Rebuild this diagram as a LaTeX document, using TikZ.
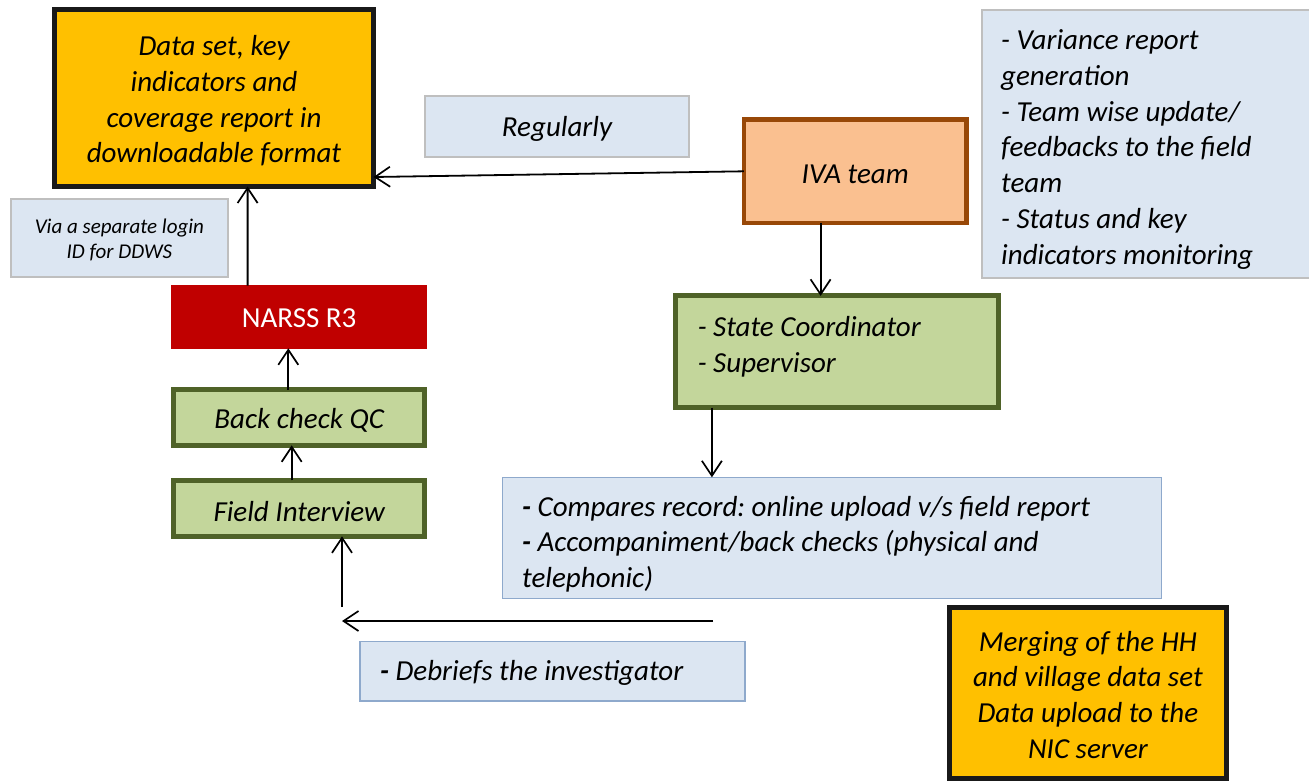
\documentclass[tikz,border=0pt]{standalone}
\usepackage{fontspec}
\setmainfont{Carlito}
\usetikzlibrary{arrows.meta,calc}

\definecolor{gold}{HTML}{FFC000}
\definecolor{paleblue}{HTML}{DCE6F2}
\definecolor{greyline}{HTML}{BFBFBF}
\definecolor{blueline}{HTML}{8EA9CC}
\definecolor{peach}{HTML}{FAC090}
\definecolor{rust}{HTML}{984807}
\definecolor{leaf}{HTML}{C3D69B}
\definecolor{olive}{HTML}{4F6228}
\definecolor{crimson}{HTML}{C00000}

\tikzset{
  box/.style={draw, rectangle, inner sep=0pt, outer sep=0pt},
  goldbox/.style={box, fill=gold, draw=black!90, line width=5pt},
  notebox/.style={box, fill=paleblue, draw=greyline, line width=2pt},
  infobox/.style={box, fill=paleblue, draw=blueline, line width=1.5pt},
  teambox/.style={box, fill=peach, draw=rust, line width=4.5pt},
  stepbox/.style={box, fill=leaf, draw=olive, line width=4.5pt},
  caption/.style={inner sep=0pt, align=center,
    font=\fontsize{29}{35.7}\selectfont\itshape},
  listtext/.style={caption, anchor=west, align=left},
  arr/.style={-{Straight Barb[length=15pt,width=20pt,line width=1.7pt]}, line width=1.8pt}
}

\begin{document}
\frenchspacing
\begin{tikzpicture}[x=1pt,y=-1pt]
\useasboundingbox (0,0) rectangle (1309,780);

% boxes
\node[goldbox, minimum width=319, minimum height=177] (data) at (214,98) {};
\node[notebox, minimum width=264, minimum height=61] (reg) at (557,126.5) {};
\node[teambox, minimum width=222.5, minimum height=103.5] (iva) at (855.2,171.3) {};
\node[notebox, minimum width=333.3, minimum height=267.5] (tasks) at (1148.4,143.8) {};
\node[notebox, minimum width=216.7, minimum height=77.4] (login) at (119.4,238) {};
\node[box, fill=crimson, draw=crimson, line width=0.5pt,
  minimum width=255, minimum height=62.6] (narss) at (299.2,317) {};
\node[stepbox, minimum width=251, minimum height=55.6] (qc) at (299.2,417.5) {};
\node[stepbox, minimum width=251, minimum height=56] (field) at (299.2,508.3) {};
\node[stepbox, line width=5pt, minimum width=322.7, minimum height=111.7] (sc) at (836.9,351.7) {};
\node[infobox, minimum width=659, minimum height=121] (cmp) at (832,537.8) {};
\node[infobox, minimum width=385, minimum height=59.5] (debrief) at (552.7,671.2) {};
\node[goldbox, minimum width=277.3, minimum height=170.8] (merge) at (1087.9,692.6) {};

% texts
\node[caption] (datatext) at ($(data.center)+(0,3)$)
  {Data set, key\\indicators and\\coverage report in\\downloadable format};
\node[caption] (regtext) at ($(reg.center)+(0,2.5)$) {Regularly};
\node[caption] (ivatext) at ($(iva.center)+(0,2.5)$) {IVA team};
\node[listtext] (taskstext) at (1001,149.5)
  {- Variance report\\generation\\- Team wise update/\\feedbacks to the field\\team\\- Status and key\\indicators monitoring};
\node[caption, font=\fontsize{21}{25}\selectfont\itshape] (logintext)
  at ($(login.center)+(0,2)$) {Via a separate login\\ID for DDWS};
\node[caption, text=white, font=\fontsize{29}{35.7}\selectfont] (narsstext)
  at ($(narss.center)+(0,1)$) {NARSS R3};
\node[caption] (qctext) at ($(qc.center)+(0,3)$) {Back check QC};
\node[caption] (fieldtext) at ($(field.center)+(0,3)$) {Field Interview};
\node[listtext] (sctext) at (697.6,346.5) {- State Coordinator\\- Supervisor};
\node[listtext] (cmptext) at (522,544)
  {\textbf{-} Compares record: online upload v/s field report\\\textbf{-} Accompaniment/back checks (physical and\\telephonic)};
\node[listtext] (debrieftext) at (380,673) {\textbf{-} Debriefs the investigator};
\node[caption] (mergetext) at ($(merge.center)+(0,2)$)
  {Merging of the HH\\and village data set\\Data upload to the\\NIC server};

% free ends of the feedback arrows
\coordinate (fbstart) at (713,621);
\coordinate (fbend) at (342,621);
\coordinate (fbup) at (342,607);

% connectors
\draw[arr] (iva.west) -- ($(data.south east)+(0,-9.5)$);
\draw[arr] ($(iva.south)+(-34.6,0)$) -- ($(sc.north)+(-16.3,0)$);
\draw[arr] ($(sc.south)+(-125,0)$) -- ($(cmp.north)+(-120.1,0)$);
\draw[arr] ($(narss.north)+(-51.6,0)$) -- ($(data.south)+(33.6,0)$);
\draw[arr] ($(qc.north)+(-10.9,0)$) -- ($(narss.south)+(-10.9,0)$);
\draw[arr] ($(field.north)+(-7.5,0)$) -- ($(qc.south)+(-7.5,0)$);
\draw[arr] (fbup) -- ($(field.south)+(42.8,0)$);
\draw[arr] (fbstart) -- (fbend);
\end{tikzpicture}
\end{document}
